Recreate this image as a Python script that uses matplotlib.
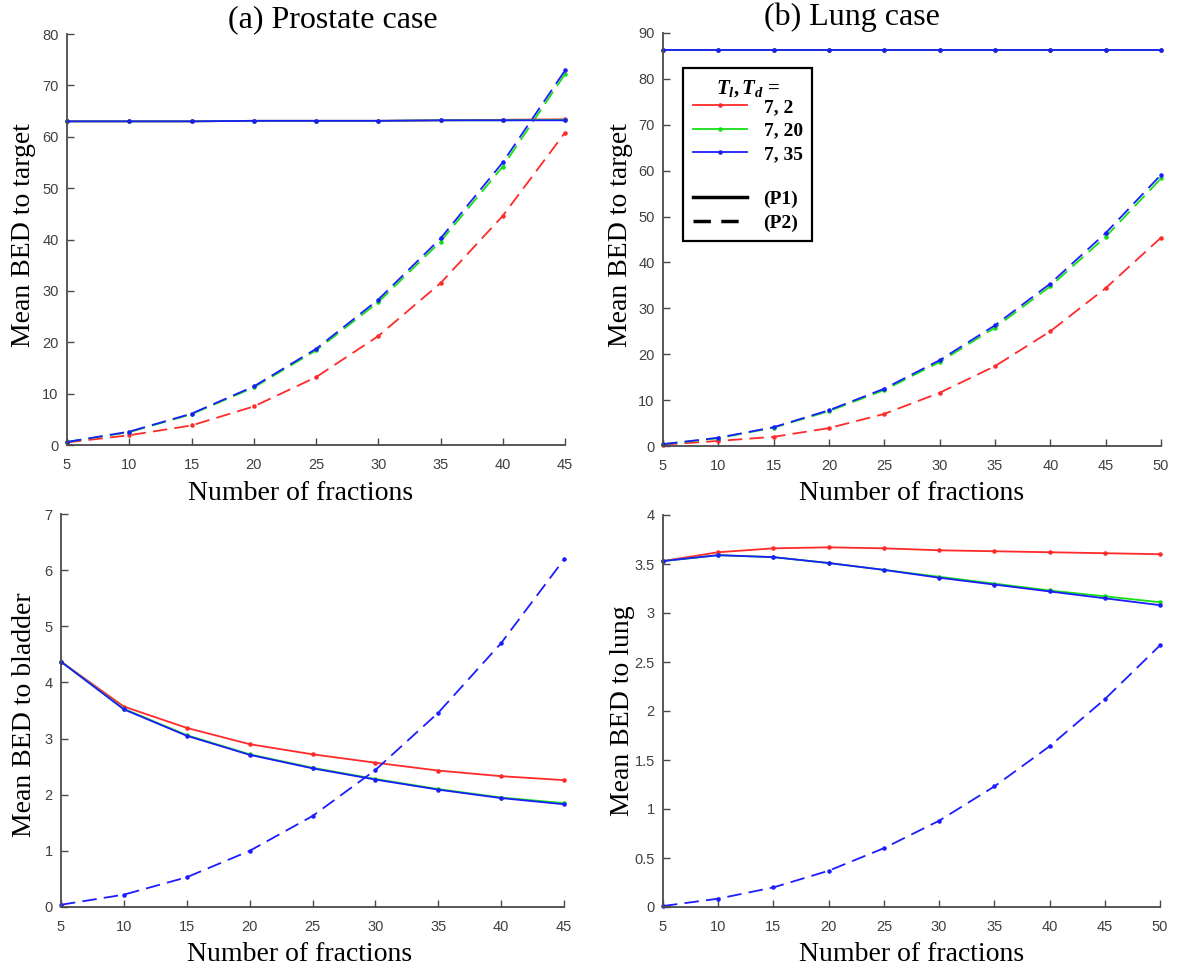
import matplotlib
matplotlib.use("Agg")
import matplotlib.pyplot as plt
from matplotlib.lines import Line2D
from matplotlib.ticker import FuncFormatter

plt.rcParams['mathtext.fontset'] = 'custom'
plt.rcParams['mathtext.it'] = 'Liberation Serif:bold:italic'
plt.rcParams['mathtext.rm'] = 'Liberation Serif:bold'
plt.rcParams['mathtext.bf'] = 'Liberation Serif:bold'

# ---------------- data ----------------
x_prostate = [5, 10, 15, 20, 25, 30, 35, 40, 45]
x_lung = [5, 10, 15, 20, 25, 30, 35, 40, 45, 50]

# Prostate target (P1 solid, P2 dashed)
pt_p1_red = [63.0, 63.0, 63.0, 63.1, 63.1, 63.1, 63.2, 63.3, 63.4]
pt_p1_green = [63.0, 63.0, 63.0, 63.1, 63.1, 63.1, 63.2, 63.2, 63.3]
pt_p1_blue = [63.0, 63.0, 63.0, 63.1, 63.1, 63.1, 63.2, 63.2, 63.2]
pt_p2_red = [0.5, 1.9, 3.8, 7.5, 13.2, 21.2, 31.5, 44.6, 60.8]
pt_p2_green = [0.6, 2.5, 6.0, 11.2, 18.4, 27.8, 39.6, 54.2, 72.2]
pt_p2_blue = [0.6, 2.6, 6.1, 11.4, 18.7, 28.3, 40.2, 55.0, 72.9]

# Lung target
lt_p1_red = [86.2, 86.2, 86.2, 86.2, 86.2, 86.2, 86.2, 86.2, 86.2, 86.2]
lt_p1_green = [86.2, 86.2, 86.2, 86.2, 86.2, 86.2, 86.2, 86.2, 86.2, 86.2]
lt_p1_blue = [86.2, 86.2, 86.2, 86.2, 86.2, 86.2, 86.2, 86.2, 86.2, 86.2]
lt_p2_red = [0.3, 1.1, 2.0, 3.9, 7.0, 11.6, 17.4, 25.0, 34.4, 45.4]
lt_p2_green = [0.4, 1.7, 4.0, 7.6, 12.2, 18.3, 25.8, 34.8, 45.6, 58.3]
lt_p2_blue = [0.4, 1.8, 4.1, 7.8, 12.5, 18.7, 26.3, 35.4, 46.4, 59.1]

# Bladder (prostate case)
bl_p1_red = [4.37, 3.57, 3.19, 2.90, 2.72, 2.57, 2.43, 2.33, 2.26]
bl_p1_green = [4.37, 3.53, 3.06, 2.72, 2.48, 2.28, 2.10, 1.95, 1.85]
bl_p1_blue = [4.37, 3.52, 3.05, 2.71, 2.47, 2.27, 2.09, 1.94, 1.83]
bl_p2_blue = [0.04, 0.22, 0.53, 1.00, 1.62, 2.44, 3.46, 4.70, 6.19]

# Lung OAR (lung case)
lg_p1_red = [3.53, 3.62, 3.66, 3.67, 3.66, 3.64, 3.63, 3.62, 3.61, 3.60]
lg_p1_green = [3.53, 3.59, 3.57, 3.51, 3.44, 3.37, 3.30, 3.23, 3.17, 3.11]
lg_p1_blue = [3.53, 3.59, 3.57, 3.51, 3.44, 3.36, 3.29, 3.22, 3.15, 3.08]
lg_p2_blue = [0.01, 0.085, 0.20, 0.37, 0.60, 0.88, 1.23, 1.64, 2.12, 2.67]

legend_labels = ['7, 2', '7, 20', '7, 35']
titles = ['(a) Prostate case', '(b) Lung case']
ylabels = ['Mean BED to target', 'Mean BED to target', 'Mean BED to bladder', 'Mean BED to lung']
xlabel = 'Number of fractions'

RED = '#ff2a2a'
GREEN = '#14e014'
BLUE = '#1c1cff'
SPINE = '#4a4a4a'
SERIF = 'Liberation Serif'
SANS = 'Liberation Sans'

W, H = 1177, 973
fig = plt.figure(figsize=(W / 100, H / 100), dpi=100)


def px_axes(l, r, t, b):
    return [l / W, 1 - b / H, (r - l) / W, (b - t) / H]


positions = [
    px_axes(67, 565, 34, 445),
    px_axes(663, 1161, 33, 446),
    px_axes(61, 564, 514, 907),
    px_axes(663, 1160, 515, 907),
]
axes = [fig.add_axes(p) for p in positions]

lw = 1.3
ms = 4.5
dash = (0, (8, 4))


def solid(ax, x, y, c):
    ax.plot(x, y, color=c, lw=lw, marker='.', ms=ms, clip_on=False)


def dashed(ax, x, y, c):
    ax.plot(x, y, color=c, lw=lw, marker='.', ms=ms, linestyle=dash, clip_on=False)


ax = axes[0]
dashed(ax, x_prostate, pt_p2_red, RED)
dashed(ax, x_prostate, pt_p2_green, GREEN)
dashed(ax, x_prostate, pt_p2_blue, BLUE)
solid(ax, x_prostate, pt_p1_red, RED)
solid(ax, x_prostate, pt_p1_green, GREEN)
solid(ax, x_prostate, pt_p1_blue, BLUE)
ax.set_xlim(5, 45)
ax.set_ylim(0, 80)
ax.set_xticks(x_prostate)
ax.set_yticks(range(0, 81, 10))

ax = axes[1]
dashed(ax, x_lung, lt_p2_red, RED)
dashed(ax, x_lung, lt_p2_green, GREEN)
dashed(ax, x_lung, lt_p2_blue, BLUE)
solid(ax, x_lung, lt_p1_red, RED)
solid(ax, x_lung, lt_p1_green, GREEN)
solid(ax, x_lung, lt_p1_blue, BLUE)
ax.set_xlim(5, 50)
ax.set_ylim(0, 90)
ax.set_xticks(x_lung)
ax.set_yticks(range(0, 91, 10))

ax = axes[2]
solid(ax, x_prostate, bl_p1_red, RED)
solid(ax, x_prostate, bl_p1_green, GREEN)
solid(ax, x_prostate, bl_p1_blue, BLUE)
dashed(ax, x_prostate, bl_p2_blue, BLUE)
ax.set_xlim(5, 45)
ax.set_ylim(0, 7)
ax.set_xticks(x_prostate)
ax.set_yticks(range(0, 8))

ax = axes[3]
solid(ax, x_lung, lg_p1_red, RED)
solid(ax, x_lung, lg_p1_green, GREEN)
solid(ax, x_lung, lg_p1_blue, BLUE)
dashed(ax, x_lung, lg_p2_blue, BLUE)
ax.set_xlim(5, 50)
ax.set_ylim(0, 4)
ax.set_xticks(x_lung)
ax.set_yticks([0, 0.5, 1, 1.5, 2, 2.5, 3, 3.5, 4])
ax.yaxis.set_major_formatter(FuncFormatter(lambda v, p: '%g' % v))

for i, ax in enumerate(axes):
    for s in ['top', 'right']:
        ax.spines[s].set_visible(False)
    for s in ['left', 'bottom']:
        ax.spines[s].set_color(SPINE)
        ax.spines[s].set_linewidth(1.3)
    ax.tick_params(direction='in', length=5, width=1.0, color=SPINE,
                   labelcolor='#404040', labelsize=10.5)
    ax.tick_params(axis='x', pad=9.5)
    ax.tick_params(axis='y', pad=6)
    for lab in ax.get_xticklabels() + ax.get_yticklabels():
        lab.set_family(SANS)
    ax.set_ylabel(ylabels[i], family=SERIF, fontsize=20, va='center')
    ax.set_xlabel(xlabel, family=SERIF, fontsize=20, va='center')

# label coordinates (axes fraction)
axes[0].xaxis.set_label_coords(0.468, -0.119)
axes[1].xaxis.set_label_coords(0.500, -0.114)
axes[2].xaxis.set_label_coords(0.475, -0.120)
axes[3].xaxis.set_label_coords(0.500, -0.120)
axes[0].yaxis.set_label_coords(-0.088, 0.51)
axes[1].yaxis.set_label_coords(-0.086, 0.51)
axes[2].yaxis.set_label_coords(-0.072, 0.49)
axes[3].yaxis.set_label_coords(-0.082, 0.50)

fig.text(333 / W, 1 - 20 / H, titles[0], family=SERIF, fontsize=23,
         ha='center', va='center')
fig.text(852 / W, 1 - 17 / H, titles[1], family=SERIF, fontsize=23,
         ha='center', va='center')

# legend
handles = [
    Line2D([], [], color=RED, lw=lw, marker='.', ms=ms),
    Line2D([], [], color=GREEN, lw=lw, marker='.', ms=ms),
    Line2D([], [], color=BLUE, lw=lw, marker='.', ms=ms),
    Line2D([], [], color='none', lw=0),
    Line2D([], [], color='black', lw=2.5),
    Line2D([], [], color='black', lw=2.5, linestyle=(0, (5, 3))),
]
labels = legend_labels + [' ', '(P1)', '(P2)']
leg = axes[1].legend(handles, labels, loc='upper left', bbox_to_anchor=(0.040, 0.915),
                     borderaxespad=0, frameon=True, fancybox=False,
                     edgecolor='black', framealpha=1, handlelength=2.8,
                     labelspacing=0.3, handletextpad=0.85, borderpad=0.5,
                     title=r'$T_l,T_d$ =',
                     prop={'family': SERIF, 'weight': 'bold', 'size': 14})
leg.get_frame().set_linewidth(1.6)
leg.get_title().set_family(SERIF)
leg.get_title().set_fontweight('bold')
leg.get_title().set_fontsize(15)
leg.get_texts()[3].set_fontsize(6)
try:
    leg._legend_box.sep = 0
except Exception:
    pass

fig.savefig('out.png', dpi=100)
